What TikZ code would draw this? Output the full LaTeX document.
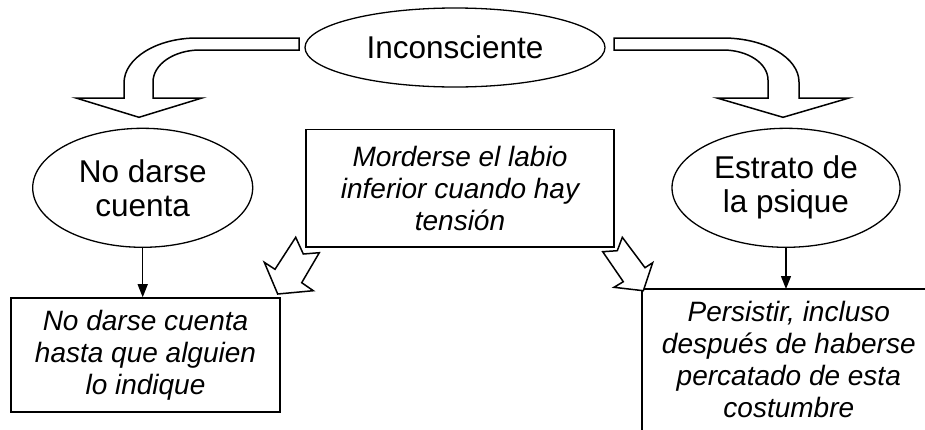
\documentclass[tikz,border=0pt]{standalone}
\usepackage{fontspec}
\setmainfont{Liberation Sans}
\usetikzlibrary{shapes.geometric,arrows.meta}
\begin{document}
\begin{tikzpicture}[x=1pt,y=-1pt,line join=miter,
  ell/.style={ellipse, draw, line width=1.3pt, inner sep=0pt, align=center, font=\fontsize{31.5}{34}\selectfont},
  bx/.style={rectangle, draw, line width=1.6pt, inner sep=0pt, align=center, font=\fontsize{28}{32}\selectfont\itshape},
  blk/.style={draw, line width=1.5pt, fill=white},
  arr/.style={line width=1.3pt, -{Triangle[length=13pt,width=10pt]}}]
\useasboundingbox (0,0) rectangle (925,429);
\clip (0,0) rectangle (925,429);

% nodes
\node[ell, minimum width=300pt, minimum height=79pt] (top) at (455,47.5) {Inconsciente};
\node[ell, minimum width=220pt, minimum height=119pt] (le) at (142.7,187.8) {No darse\\cuenta};
\node[ell, minimum width=228pt, minimum height=119pt] (re) at (786,187.8) {Estrato de\\la psique};
\node[bx, minimum width=308pt, minimum height=117.4pt] (mid) at (460,188) {Morderse el labio\\inferior cuando hay\\tensi\'on};
\node[bx, minimum width=269pt, minimum height=114pt] (lbox) at (145.5,355) {No darse cuenta\\hasta que alguien\\lo indique};
\node[bx, draw=none, minimum width=292pt, minimum height=140pt, anchor=north west] (rbox) at (642,289) {Persistir, incluso\\despu\'es de haberse\\percatado de esta\\costumbre};
\draw[line width=1.6pt] (rbox.south west) -- (rbox.north west) -- (rbox.north east);

% connectors
\draw[arr] (le.south) -- (le.south |- lbox.north);
\draw[arr] (re.south) -- (re.south |- rbox.north);

% curved block arrows from the top ellipse
\draw[blk] (299,38) -- (197,38) .. controls (156.7,38) and (124,58.2) .. (124,83)
  -- (124,98) -- (76,98) -- (139,117.3) -- (202,98) -- (153,98) -- (153,82)
  .. controls (153,64.3) and (174,50) .. (200,50) -- (299,50) -- cycle;
\draw[blk] (614,38) -- (723,38) .. controls (765,38) and (799,57.7) .. (799,82)
  -- (799,98) -- (849,98) -- (783,117.3) -- (717,98) -- (768,98) -- (768,80)
  .. controls (768,63.4) and (748,50) .. (723,50) -- (614,50) -- cycle;

% small notched block arrows
\draw[blk] (295.7,237.3) -- (303.3,254) -- (319.3,252.7) -- (301.7,282.7) -- (313.3,290.7)
  -- (277.7,294) -- (264.3,262.3) -- (275,269.3) -- cycle;
\draw[blk] (622.3,237.3) -- (617.3,250.7) -- (602.7,251.7) -- (623.3,281.7) -- (614,287.3)
  -- (643.3,290.7) -- (652.7,262.7) -- (645,267.7) -- cycle;
\end{tikzpicture}
\end{document}
